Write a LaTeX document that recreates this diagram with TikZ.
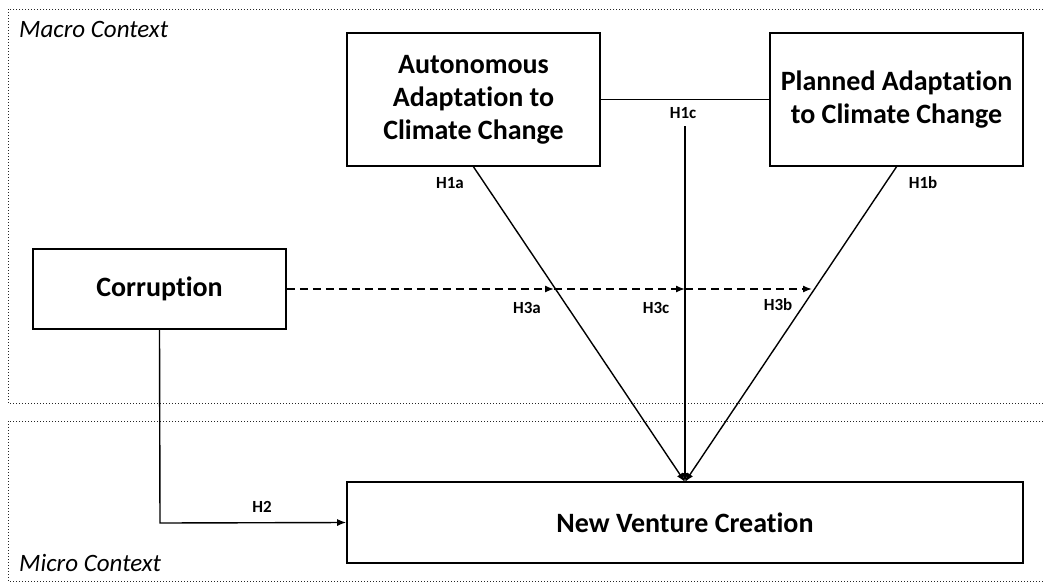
\documentclass[tikz,border=0pt]{standalone}
\usepackage{fontspec}
\setmainfont[RawFeature=-liga]{Carlito}
\usetikzlibrary{arrows.meta}
\begin{document}
\begin{tikzpicture}[x=1pt,y=-1pt,
  box/.style={draw,line width=1.6pt,align=center,inner sep=0pt,
    font=\bfseries\fontsize{28}{33}\selectfont},
  lbl/.style={font=\bfseries\fontsize{17}{19}\selectfont,inner sep=0pt},
  ctx/.style={font=\itshape\fontsize{25}{27}\selectfont,inner sep=0pt,anchor=west},
  region/.style={draw,dotted,line width=1pt,black!85},
  conn/.style={line width=1.4pt},
  tip/.style={-{Latex[length=9pt,width=7pt]}},
]
\useasboundingbox (0,0) rectangle (1045,582);
\draw[region] (8,9) rectangle (1060,403);
\draw[region] (8,421) rectangle (1060,581);
\node[ctx] (macro) at (19,29) {Macro Context};
\node[ctx] (micro) at (19,563) {Micro Context};

\node[box,minimum width=253pt,minimum height=133pt] (auto) at (473.5,99.5)
  {Autonomous\\Adaptation to\\Climate Change};
\node[box,minimum width=253pt,minimum height=133pt] (plan) at (896.5,99.5)
  {Planned Adaptation\\to Climate Change};
\node[box,minimum width=253pt,minimum height=80pt] (corr) at (159.5,289)
  {Corruption};
\node[box,minimum width=676pt,minimum height=81pt] (nvc) at (685,522.5)
  {New Venture Creation};

\coordinate (conv) at (685,482);
\coordinate (vtop) at (685,126);
\coordinate (h3a) at (554,289);
\coordinate (h3c) at (685,289);
\coordinate (h3b) at (812,289);
\coordinate (bend) at (160,523);

\draw[conn] (auto.east) -- (plan.west);
\draw[conn,tip] (vtop) -- (conv);
\draw[conn,tip] (auto.south) -- (conv);
\draw[conn,tip] (plan.south) -- (conv);

\draw[conn,dashed,dash pattern=on 8pt off 5pt,tip] (corr.east) -- (h3a);
\draw[conn,dashed,dash pattern=on 8pt off 5pt,tip] (h3a) -- (h3c);
\draw[conn,dashed,dash pattern=on 8pt off 5pt,tip] (h3c) -- (h3b);

\draw[conn,tip] (corr.south) -- (bend) -- (nvc.west);

\node[lbl] (l1c) at (683,113) {H1c};
\node[lbl] (l1a) at (450,183) {H1a};
\node[lbl] (l1b) at (923,183) {H1b};
\node[lbl] (l3a) at (527,308) {H3a};
\node[lbl] (l3c) at (656,308) {H3c};
\node[lbl] (l3b) at (778,305) {H3b};
\node[lbl] (l2) at (262,507) {H2};
\end{tikzpicture}
\end{document}
